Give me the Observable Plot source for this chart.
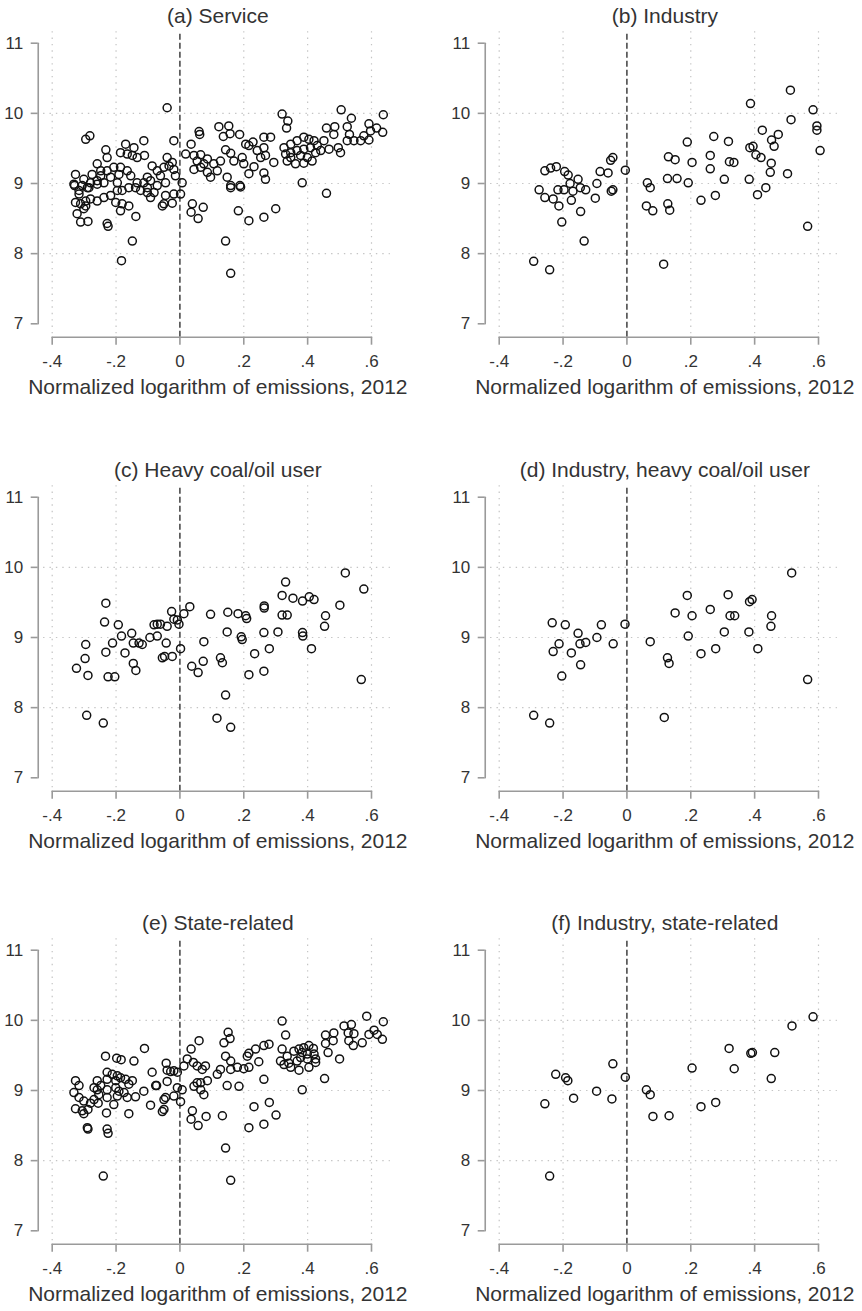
<!DOCTYPE html>
<html>
<head>
<meta charset="utf-8">
<script src="https://cdn.jsdelivr.net/npm/d3@7"></script>
<script src="https://cdn.jsdelivr.net/npm/@observablehq/plot@0.6"></script>
<style>
  body { margin: 0; background: #fff; }
  #fig { position: relative; width: 862px; height: 1311px; background: #fff; }
  #fig svg { position: absolute; overflow: visible; }
</style>
</head>
<body>
<div id="fig"></div>
<script>
// Panel titles, in reading order (left→right, top→bottom)
const panelTitles = [
  "(a) Service",
  "(b) Industry",
  "(c) Heavy coal/oil user",
  "(d) Industry, heavy coal/oil user",
  "(e) State-related",
  "(f) Industry, state-related"
];
const xLabel = "Normalized logarithm of emissions, 2012";
const xTicks = [-0.4, -0.2, 0, 0.2, 0.4, 0.6];
const xTickLabels = ["-.4", "-.2", "0", ".2", ".4", ".6"];
const yTicks = [7, 8, 9, 10, 11];
const yGrid = [8, 9, 10];

// [normalized log emissions, outcome] per firm
const service = [
  [-0.040,10.08],[0.320,9.99],[0.338,9.89],[0.334,9.79],[0.505,10.05],[0.537,9.93],[0.637,9.98],[0.635,9.73],
  [0.592,9.85],[0.616,9.79],[0.576,9.68],[0.597,9.75],[0.592,9.62],[0.524,9.81],[0.531,9.70],[0.459,9.79],
  [0.485,9.81],[0.467,9.49],[0.496,9.51],[0.503,9.44],[0.524,9.61],[0.545,9.61],[0.566,9.61],[0.482,9.70],
  [0.451,9.61],[0.383,9.01],[0.459,8.86],[0.326,9.51],[0.347,9.56],[0.367,9.61],[0.388,9.66],[0.404,9.63],
  [0.420,9.61],[0.409,9.51],[0.388,9.49],[0.367,9.47],[0.347,9.44],[0.331,9.42],[0.378,9.40],[0.399,9.37],
  [0.425,9.44],[0.414,9.32],[0.388,9.29],[0.362,9.28],[0.336,9.32],[0.347,9.37],[0.430,9.54],[0.441,9.47],
  [0.294,9.30],[0.263,9.66],[0.284,9.66],[0.263,9.51],[0.242,9.47],[0.253,9.37],[0.268,9.40],[0.206,9.56],
  [0.216,9.54],[0.229,9.59],[0.187,9.70],[0.122,9.81],[0.153,9.82],[0.136,9.67],[0.157,9.71],[0.143,9.48],
  [0.159,9.43],[0.169,9.32],[0.195,9.37],[0.216,9.14],[0.232,9.24],[0.200,9.28],[0.263,9.15],[0.268,9.06],
  [0.060,9.74],[0.062,9.70],[0.035,9.56],[-0.019,9.61],[0.018,9.42],[0.044,9.40],[0.065,9.41],[0.054,9.32],
  [0.075,9.28],[0.086,9.35],[0.007,9.01],[0.044,9.20],[0.065,9.23],[0.086,9.16],[0.106,9.28],[0.127,9.32],
  [0.117,9.18],[0.096,9.09],[0.148,9.09],[0.159,8.97],[0.188,8.97],[0.002,8.85],[-0.295,9.63],[-0.282,9.68],
  [-0.327,9.13],[-0.330,8.97],[-0.316,8.90],[-0.301,9.06],[-0.290,8.94],[-0.275,9.13],[-0.280,9.01],[-0.259,9.28],
  [-0.248,9.18],[-0.228,9.37],[-0.232,9.48],[-0.217,9.09],[-0.196,9.01],[-0.186,9.23],[-0.170,9.56],[-0.186,9.44],
  [-0.165,9.42],[-0.149,9.40],[-0.144,9.51],[-0.134,9.37],[-0.113,9.61],[-0.111,9.40],[-0.102,9.09],[-0.087,9.25],
  [-0.071,9.18],[-0.061,9.11],[-0.050,9.23],[-0.040,9.37],[-0.034,9.25],[-0.024,9.30],[-0.019,9.20],[-0.014,9.11],
  [-0.045,9.01],[-0.071,8.97],[-0.092,9.04],[-0.113,9.01],[-0.134,9.01],[-0.154,9.11],[-0.165,9.18],[-0.191,9.13],
  [-0.207,9.23],[-0.228,9.18],[-0.248,9.11],[-0.259,9.04],[-0.160,8.94],[-0.139,8.94],[-0.181,8.90],[-0.102,8.87],
  [-0.081,8.87],[-0.123,8.90],[-0.332,8.99],[-0.306,8.97],[-0.285,8.94],[-0.259,8.99],[-0.238,9.01],[-0.316,8.85],
  [-0.327,8.73],[-0.311,8.71],[-0.295,8.75],[-0.280,8.78],[-0.259,8.75],[-0.238,8.80],[-0.217,8.83],[-0.196,8.90],
  [-0.295,8.68],[-0.301,8.64],[-0.322,8.57],[-0.311,8.45],[-0.288,8.46],[-0.228,8.43],[-0.225,8.39],[-0.201,8.73],
  [-0.186,8.61],[-0.181,8.71],[-0.160,8.68],[-0.138,8.53],[-0.149,8.18],[-0.183,7.90],[-0.092,8.80],[-0.102,8.94],
  [-0.055,8.68],[-0.050,8.71],[-0.024,8.72],[-0.019,8.85],[-0.045,8.83],[0.039,8.71],[0.035,8.59],[0.057,8.50],
  [0.073,8.66],[0.159,8.94],[0.190,8.95],[0.183,8.61],[0.216,8.47],[0.263,8.52],[0.300,8.64],[0.143,8.18],
  [0.159,7.72]
];

const industry = [
  [0.512,10.33],[0.387,10.14],[0.583,10.05],[0.514,9.91],[0.595,9.82],[0.595,9.76],[0.605,9.47],[0.424,9.76],
  [0.474,9.70],[0.453,9.62],[0.461,9.53],[0.385,9.51],[0.395,9.53],[0.404,9.41],[0.420,9.37],[0.452,9.29],
  [0.449,9.16],[0.503,9.14],[0.383,9.06],[0.272,9.67],[0.318,9.60],[0.189,9.59],[0.261,9.40],[0.261,9.21],
  [0.321,9.31],[0.335,9.30],[0.305,9.06],[0.204,9.30],[0.130,9.38],[0.151,9.34],[0.127,9.07],[0.157,9.07],
  [0.192,9.01],[0.064,9.01],[0.073,8.94],[-0.005,9.19],[-0.044,9.37],[-0.051,9.33],[-0.084,9.17],[-0.059,9.15],
  [-0.094,9.00],[-0.044,8.91],[-0.049,8.89],[-0.257,9.18],[-0.239,9.22],[-0.221,9.24],[-0.195,9.17],[-0.184,9.12],
  [-0.153,9.06],[-0.178,9.00],[-0.275,8.91],[-0.216,8.91],[-0.197,8.91],[-0.169,8.89],[-0.146,8.94],[-0.129,8.91],
  [-0.257,8.80],[-0.231,8.78],[-0.174,8.76],[-0.213,8.68],[-0.204,8.45],[-0.145,8.60],[-0.134,8.18],[-0.292,7.89],
  [-0.242,7.77],[-0.099,8.79],[0.061,8.68],[0.081,8.61],[0.128,8.71],[0.134,8.62],[0.115,7.85],[0.232,8.76],
  [0.277,8.83],[0.409,8.84],[0.435,8.94],[0.566,8.39]
];

const heavyUser = [
  [0.518,9.92],[0.576,9.69],[0.331,9.79],[0.320,9.60],[0.354,9.56],[0.405,9.58],
  [-0.232,9.49],[-0.236,9.22],[-0.193,9.18],[-0.183,9.02],[-0.151,9.06],[-0.211,8.92],[-0.232,8.79],[-0.172,8.78],
  [-0.295,8.90],[-0.297,8.70],[-0.324,8.56],[-0.288,8.46],[-0.225,8.44],[-0.204,8.44],[-0.146,8.63],[-0.138,8.53],
  [-0.292,7.89],[-0.240,7.78],[-0.146,8.92],[-0.128,8.92],[-0.118,8.90],[-0.094,9.00],[-0.071,9.02],[-0.081,9.18],
  [-0.071,9.19],[-0.061,9.19],[-0.043,8.92],[-0.040,9.16],[-0.026,9.37],[-0.019,9.26],[-0.008,9.25],[-0.003,9.19],
  [0.0125,9.34],[0.031,9.44],[-0.055,8.71],[-0.048,8.73],[-0.024,8.73],[0.002,8.84],[0.037,8.59],[0.057,8.50],
  [0.073,8.66],[0.075,8.94],[0.096,9.33],[0.150,9.36],[0.148,9.08],[0.182,9.34],[0.206,9.31],[0.209,9.27],
  [0.192,9.01],[0.195,8.97],[0.127,8.71],[0.133,8.64],[0.116,7.85],[0.143,8.18],[0.159,7.72],[0.216,8.47],
  [0.234,8.77],[0.263,9.07],[0.263,8.52],[0.264,9.45],[0.264,9.42],[0.280,8.84],[0.307,9.08],[0.320,9.32],
  [0.336,9.32],[0.384,9.07],[0.385,9.02],[0.412,8.84],[0.453,9.16],[0.456,9.31],[0.501,9.46],[0.568,8.40],
  [0.384,9.52],[0.420,9.54]
];

const industryHeavyUser = [
  [-0.292,7.89],[-0.242,7.78],[-0.234,9.21],[-0.193,9.18],[-0.2125,8.91],[-0.231,8.80],[-0.174,8.78],[-0.204,8.45],
  [-0.153,9.06],[-0.147,8.91],[-0.129,8.93],[-0.145,8.61],[-0.094,9.00],[-0.080,9.18],[-0.043,8.91],[-0.006,9.19],
  [0.073,8.94],[0.117,7.86],[0.127,8.71],[0.132,8.63],[0.151,9.35],[0.192,9.02],[0.204,9.31],[0.232,8.77],
  [0.261,9.40],[0.278,8.84],[0.305,9.08],[0.323,9.31],[0.3375,9.31],[0.382,9.08],[0.410,8.84],[0.451,9.16],
  [0.453,9.31],[0.566,8.40],[0.189,9.60],[0.317,9.61],[0.384,9.51],[0.392,9.54],[0.516,9.92]
];

const stateRelated = [
  [0.320,9.99],[0.331,9.79],[0.585,10.06],[0.637,9.98],[0.514,9.92],[0.537,9.94],[0.527,9.82],[0.545,9.81],
  [0.456,9.79],[0.482,9.82],[0.480,9.71],[0.529,9.71],[0.543,9.64],[0.571,9.68],[0.592,9.80],[0.608,9.86],
  [0.618,9.80],[0.634,9.73],[0.456,9.67],[0.464,9.54],[0.500,9.45],[0.453,9.17],[0.357,9.56],[0.373,9.59],
  [0.388,9.61],[0.404,9.64],[0.418,9.60],[0.383,9.54],[0.399,9.52],[0.420,9.52],[0.378,9.47],[0.399,9.45],
  [0.425,9.45],[0.367,9.42],[0.341,9.39],[0.347,9.33],[0.373,9.29],[0.404,9.33],[0.425,9.40],[0.336,9.49],
  [0.320,9.59],[0.315,9.42],[0.326,9.37],[0.263,9.64],[0.279,9.66],[0.237,9.59],[0.216,9.53],[0.211,9.49],
  [0.247,9.41],[0.263,9.16],[0.151,9.83],[0.157,9.74],[0.138,9.68],[0.060,9.71],[0.035,9.59],[0.143,9.49],
  [0.159,9.42],[0.180,9.33],[0.200,9.31],[0.216,9.33],[0.127,9.30],[0.117,9.23],[0.159,9.30],[0.023,9.45],
  [0.042,9.40],[0.054,9.35],[0.070,9.30],[0.080,9.35],[0.0125,9.35],[-0.043,9.39],[-0.040,9.29],[-0.029,9.27],
  [-0.019,9.28],[-0.008,9.26],[-0.087,9.26],[-0.111,9.60],[-0.144,9.42],[-0.233,9.49],[-0.198,9.46],[-0.184,9.44],
  [-0.228,9.26],[-0.212,9.23],[-0.196,9.21],[-0.186,9.18],[-0.170,9.16],[-0.149,9.14],[-0.201,9.14],[-0.228,9.16],
  [-0.259,9.14],[-0.327,9.14],[-0.316,9.07],[-0.269,9.04],[-0.248,9.07],[-0.076,9.07],[0.065,9.11],[0.086,9.14],
  [-0.332,8.97],[-0.316,8.90],[-0.301,8.85],[-0.327,8.74],[-0.306,8.71],[-0.301,8.67],[-0.288,8.73],[-0.280,8.82],
  [-0.269,8.87],[-0.254,8.94],[-0.259,9.01],[-0.228,9.01],[-0.201,9.04],[-0.191,8.99],[-0.175,8.97],[-0.160,9.09],
  [-0.139,8.91],[-0.165,8.90],[-0.196,8.92],[-0.207,8.80],[-0.228,8.90],[-0.230,8.68],[-0.256,8.82],[-0.290,8.47],
  [-0.288,8.45],[-0.228,8.45],[-0.225,8.39],[-0.160,8.67],[-0.113,8.99],[-0.092,8.79],[-0.073,9.07],[-0.050,8.87],
  [-0.045,8.90],[-0.055,8.70],[-0.050,8.73],[-0.019,8.92],[-0.008,9.04],[0.002,8.84],[0.007,9.01],[-0.040,9.13],
  [0.039,8.71],[0.035,8.59],[0.057,8.50],[0.082,8.63],[0.044,9.06],[0.065,9.01],[0.075,8.94],[0.054,9.11],
  [0.133,8.64],[0.148,9.07],[0.185,9.06],[0.232,8.77],[0.216,8.47],[0.263,8.52],[0.280,8.83],[0.301,8.65],
  [0.383,9.01],[0.143,8.18],[0.159,7.72],[-0.240,7.78]
];

const industryStateRelated = [
  [0.583,10.05],[0.517,9.92],[0.320,9.60],[0.388,9.53],[0.393,9.54],[0.463,9.54],[0.336,9.31],[0.204,9.32],
  [0.452,9.17],[-0.044,9.38],[-0.005,9.19],[-0.223,9.23],[-0.192,9.18],[-0.185,9.14],[0.061,9.01],[-0.095,8.99],
  [-0.257,8.81],[-0.242,7.78],[-0.167,8.89],[-0.047,8.88],[0.073,8.94],[0.0815,8.63],[0.132,8.64],[0.232,8.77],
  [0.278,8.83]
];

const panelData = [service, industry, heavyUser, industryHeavyUser, stateRelated, industryStateRelated];

const FONT = '"Liberation Sans", Arial, Helvetica, sans-serif';
const AXIS_GRAY = "#9a9a9a";
const GRID_GRAY = "#c4c4c4";
const TEXT = "#333";

// the axis lines sit just outside the data area and span only the tick range
const X_AXIS_AT = 6.809;
const Y_AXIS_AT = -0.44375;
const xAxisLine = [[xTicks[0], X_AXIS_AT], [xTicks[xTicks.length - 1], X_AXIS_AT]];
const yAxisLine = [[Y_AXIS_AT, yTicks[0]], [Y_AXIS_AT, yTicks[yTicks.length - 1]]];

function panel(title, points) {
  return Plot.plot({
    width: 415,
    height: 404,
    marginTop: 29,
    marginLeft: 37.7,
    marginRight: 18,
    marginBottom: 67.3,
    x: {domain: [-0.4, 0.6], range: [51.7, 371]},
    y: {domain: [7, 11], range: [323.3, 42.7]},
    style: {fontFamily: FONT, background: "transparent", overflow: "visible", color: TEXT},
    marks: [
      // dotted grid
      Plot.ruleX(xTicks.filter(d => d !== 0), {y1: 6.857, y2: 11.19, stroke: GRID_GRAY, strokeWidth: 1.2, strokeDasharray: "1.4,5"}),
      Plot.ruleY(yGrid, {x1: -0.427, x2: 0.659, stroke: GRID_GRAY, strokeWidth: 1.2, strokeDasharray: "1.4,5"}),
      // cutoff at zero
      Plot.ruleX([0], {y1: X_AXIS_AT, y2: 11.134, stroke: "#111", strokeWidth: 1.2, strokeDasharray: "6,3"}),
      // axis lines
      Plot.line(xAxisLine, {x: d => d[0], y: d => d[1], stroke: AXIS_GRAY, strokeWidth: 1.6}),
      Plot.line(yAxisLine, {x: d => d[0], y: d => d[1], stroke: AXIS_GRAY, strokeWidth: 1.6}),
      Plot.axisX({
        ticks: xTicks,
        tickFormat: d => xTickLabels[xTicks.findIndex(t => Math.abs(t - d) < 1e-9)],
        tickSize: 8, tickPadding: 10, fontSize: 17,
        stroke: AXIS_GRAY, strokeWidth: 1.6, fill: TEXT, label: null
      }),
      Plot.axisY({
        ticks: yTicks, tickFormat: d => String(d), tickSize: 7, tickPadding: 8, fontSize: 17,
        stroke: AXIS_GRAY, strokeWidth: 1.6, fill: TEXT, label: null
      }),
      Plot.dot(points, {x: d => d[0], y: d => d[1], r: 4, stroke: "#111", strokeWidth: 1.5, fill: "none"}),
      Plot.text([title], {frameAnchor: "top", dy: -13.3, lineAnchor: "middle", fontSize: 21, fill: TEXT}),
      Plot.text([xLabel], {frameAnchor: "bottom", dy: 50, lineAnchor: "middle", fontSize: 21, fill: TEXT})
    ]
  });
}

const fig = document.getElementById("fig");
const colLeft = [0, 447];
const rowTop = [0, 454, 907];
panelTitles.forEach((title, i) => {
  const svg = panel(title, panelData[i]);
  svg.style.left = colLeft[i % 2] + "px";
  svg.style.top = rowTop[Math.floor(i / 2)] + "px";
  fig.appendChild(svg);
});
</script>
</body>
</html>
